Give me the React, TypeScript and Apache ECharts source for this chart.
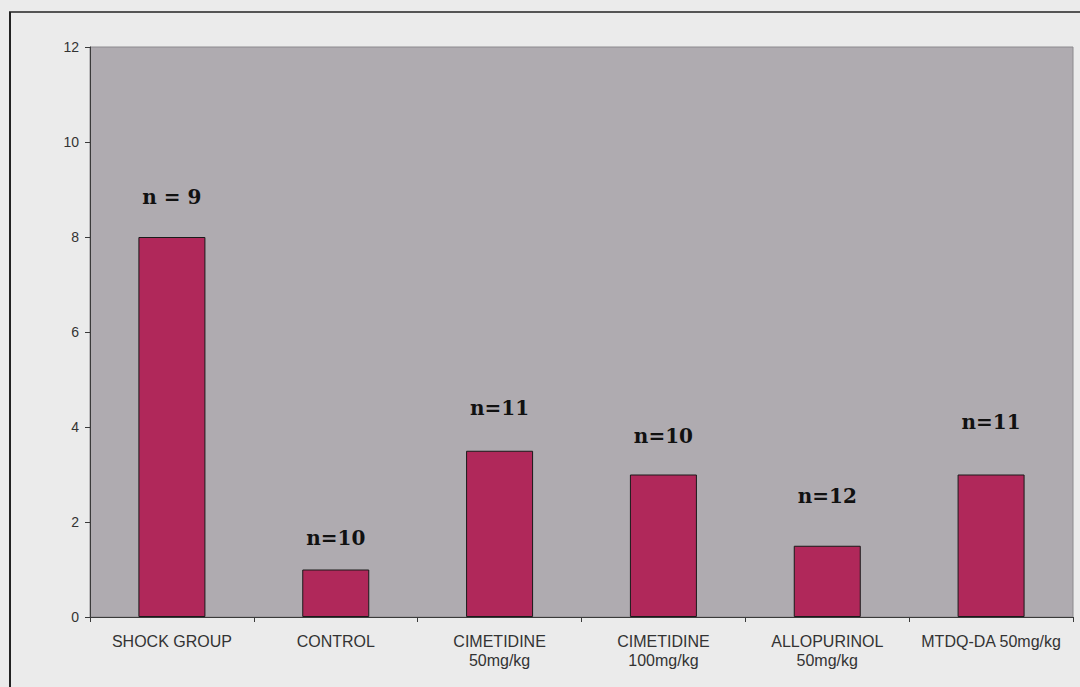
import React, { useEffect, useRef } from "react";
import * as echarts from "echarts";

// Group labels on the category axis
const categories = [
  "SHOCK GROUP",
  "CONTROL",
  "CIMETIDINE\n50mg/kg",
  "CIMETIDINE\n100mg/kg",
  "ALLOPURINOL\n50mg/kg",
  "MTDQ-DA 50mg/kg",
];

// Mean value per group
const values = [8, 1, 3.5, 3, 1.5, 3];

// Sample sizes printed above each bar
const sampleSizes = ["n = 9", "n=10", "n=11", "n=10", "n=12", "n=11"];

// Value axis range and tick step
const yMin = 0;
const yMax = 12;
const yStep = 2;

// Gap (px) between each bar top and its sample-size label
const labelGaps = [30, 22, 33, 29, 40, 43];

export default function App() {
  const ref = useRef<HTMLDivElement>(null);

  useEffect(() => {
    document.body.style.margin = "0";
    document.body.style.background = "#ebebeb";
    if (!ref.current) return;
    const chart = echarts.init(ref.current, null, { renderer: "svg" });

    const option: echarts.EChartsOption = {
      animation: false,
      backgroundColor: "#ebebeb",
      textStyle: { fontFamily: "Liberation Sans, Arial, sans-serif" },
      grid: {
        left: 90,
        right: 7,
        top: 47,
        bottom: 70,
        show: true,
        backgroundColor: "#afabb0",
        borderColor: "#8c8a8e",
        borderWidth: 1,
      },
      xAxis: {
        type: "category",
        data: categories,
        axisLine: { show: true, lineStyle: { color: "#3a3a3a", width: 1 } },
        axisTick: { show: true, length: 5, inside: false, lineStyle: { color: "#3a3a3a" } },
        axisLabel: {
          color: "#333",
          fontSize: 16,
          lineHeight: 19,
          margin: 15,
          interval: 0,
          fontFamily: "Liberation Sans, Arial, sans-serif",
        },
      },
      yAxis: {
        type: "value",
        min: yMin,
        max: yMax,
        interval: yStep,
        splitLine: { show: false },
        axisLine: { show: true, lineStyle: { color: "#3a3a3a", width: 1 } },
        axisTick: { show: true, length: 5, lineStyle: { color: "#3a3a3a" } },
        axisLabel: {
          color: "#333",
          fontSize: 14,
          margin: 11,
          fontFamily: "Liberation Sans, Arial, sans-serif",
        },
      },
      series: [
        {
          type: "bar",
          barWidth: 67,
          data: values.map((v, i) => ({
            value: v,
            label: {
              show: true,
              position: "top",
              distance: labelGaps[i],
              formatter: () => sampleSizes[i],
              color: "#111",
              fontSize: 20,
              fontWeight: "bold",
              fontFamily: "DejaVu Serif, serif",
            },
          })),
          itemStyle: {
            color: "#b0285a",
            borderColor: "#1a1a1a",
            borderWidth: 1,
          },
        },
      ],
      graphic: [
        {
          type: "line",
          shape: { x1: 9, y1: 12, x2: 1080, y2: 12 },
          style: { stroke: "#222", lineWidth: 1.5 },
        },
        {
          type: "line",
          shape: { x1: 10, y1: 12, x2: 10, y2: 687 },
          style: { stroke: "#222", lineWidth: 2 },
        },
      ],
    };

    chart.setOption(option);
    return () => chart.dispose();
  }, []);

  return <div ref={ref} style={{ width: 1080, height: 687 }} />;
}
